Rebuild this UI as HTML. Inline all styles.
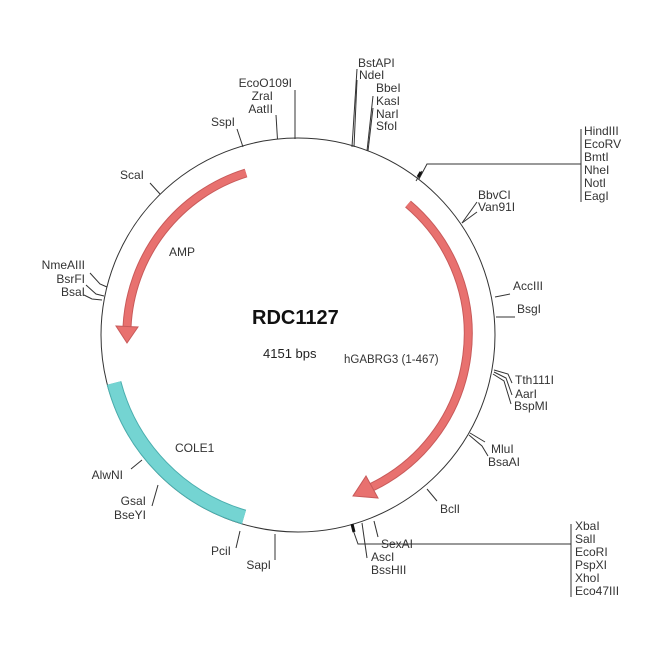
<!DOCTYPE html>
<html><head><meta charset="utf-8"><style>
html,body{margin:0;padding:0;background:#fff;}
svg{display:block;}
text{font-family:"Liberation Sans",Arial,sans-serif;font-size:12px;fill:#333;}
</style></head><body>
<svg width="650" height="650" viewBox="0 0 650 650" xmlns="http://www.w3.org/2000/svg">
<rect width="650" height="650" fill="#fff"/>
<circle cx="298" cy="335" r="197" fill="none" stroke="#333" stroke-width="1"/>

<!-- AMP arrow -->
<path d="M246,173 A170,170 0 0 0 127,327" fill="none" stroke="#c85a5a" stroke-width="9"/>
<path d="M246,173 A170,170 0 0 0 127,327" fill="none" stroke="#e8716f" stroke-width="7"/>
<polygon points="116,326 138,327 127,343" fill="#e8716f" stroke="#c85a5a" stroke-width="1"/>

<!-- hGABRG3 arrow -->
<path d="M408,204 A170,170 0 0 1 372,487" fill="none" stroke="#c85a5a" stroke-width="9"/>
<path d="M408,204 A170,170 0 0 1 372,487" fill="none" stroke="#e8716f" stroke-width="7"/>
<polygon points="378,498 366,476 353,496" fill="#e8716f" stroke="#c85a5a" stroke-width="1"/>

<!-- COLE1 -->
<path d="M114,383 A190,190 0 0 0 244,517" fill="none" stroke="#4aaeae" stroke-width="15"/>
<path d="M114,383 A190,190 0 0 0 244,517" fill="none" stroke="#74d4d2" stroke-width="13"/>

<g stroke="#333" stroke-width="1" fill="none">
<line x1="243" y1="147" x2="237" y2="129"/>
<line x1="277.5" y1="139.5" x2="276" y2="115"/>
<line x1="295" y1="139" x2="295" y2="90"/>
<line x1="352" y1="147" x2="357" y2="69"/>
<line x1="354" y1="147" x2="357" y2="80"/>
<line x1="367" y1="151" x2="373" y2="96"/>
<line x1="368" y1="151" x2="373" y2="108"/>
<path d="M419,179 L427,164 L581,164"/>
<line x1="581" y1="129" x2="581" y2="202"/>
<line x1="416" y1="181" x2="422" y2="171"/>
<line x1="462" y1="223" x2="477" y2="202"/>
<line x1="462" y1="223" x2="477" y2="212"/>
<line x1="495" y1="297" x2="510" y2="294"/>
<line x1="496" y1="317" x2="515" y2="317"/>
<path d="M494,370 L508,374 L512,383"/>
<path d="M494,372 L506,378 L512,395"/>
<path d="M493,374 L504,381 L511,404"/>
<line x1="470" y1="433" x2="485" y2="442"/>
<path d="M469,435 L482,446 L488,456"/>
<line x1="427" y1="489" x2="437" y2="501"/>
<line x1="374" y1="521" x2="378" y2="537"/>
<line x1="362" y1="523" x2="367" y2="558"/>
<path d="M352,527 L358,544 L571,544"/>
<line x1="571" y1="524" x2="571" y2="597"/>
<line x1="240" y1="531" x2="236" y2="548"/>
<line x1="275" y1="534" x2="275" y2="560"/>
<line x1="158" y1="485" x2="152" y2="506"/>
<line x1="142" y1="460" x2="131" y2="469"/>
<line x1="160" y1="194" x2="150" y2="183"/>
<path d="M107,287 L100,284 L90,273"/>
<path d="M104,296 L96,294 L86,285"/>
<path d="M102,300 L92,299 L84,295"/>
</g>
<g stroke="#111" stroke-width="3">
<line x1="418" y1="177" x2="421" y2="172"/>
<line x1="352" y1="524" x2="354" y2="532"/>
</g>

<text x="292" y="87" text-anchor="end">EcoO109I</text>
<text x="273" y="100" text-anchor="end">ZraI</text>
<text x="273" y="113" text-anchor="end">AatII</text>
<text x="235" y="126" text-anchor="end">SspI</text>
<text x="144" y="179" text-anchor="end">ScaI</text>
<text x="358" y="67">BstAPI</text>
<text x="359" y="79">NdeI</text>
<text x="376" y="92">BbeI</text>
<text x="376" y="105">KasI</text>
<text x="376" y="118">NarI</text>
<text x="376" y="130">SfoI</text>
<text x="584" y="135">HindIII</text>
<text x="584" y="148">EcoRV</text>
<text x="584" y="161">BmtI</text>
<text x="584" y="174">NheI</text>
<text x="584" y="187">NotI</text>
<text x="584" y="200">EagI</text>
<text x="478" y="199">BbvCI</text>
<text x="478" y="211">Van91I</text>
<text x="513" y="290">AccIII</text>
<text x="517" y="313">BsgI</text>
<text x="515" y="384">Tth111I</text>
<text x="515" y="398">AarI</text>
<text x="514" y="410">BspMI</text>
<text x="491" y="453">MluI</text>
<text x="488" y="466">BsaAI</text>
<text x="440" y="513">BclI</text>
<text x="381" y="548">SexAI</text>
<text x="371" y="561">AscI</text>
<text x="371" y="574">BssHII</text>
<text x="575" y="530">XbaI</text>
<text x="575" y="543">SalI</text>
<text x="575" y="556">EcoRI</text>
<text x="575" y="569">PspXI</text>
<text x="575" y="582">XhoI</text>
<text x="575" y="595">Eco47III</text>
<text x="231" y="555" text-anchor="end">PciI</text>
<text x="271" y="569" text-anchor="end">SapI</text>
<text x="146" y="505" text-anchor="end">GsaI</text>
<text x="146" y="519" text-anchor="end">BseYI</text>
<text x="123" y="479" text-anchor="end">AlwNI</text>
<text x="85" y="269" text-anchor="end">NmeAIII</text>
<text x="85" y="283" text-anchor="end">BsrFI</text>
<text x="85" y="296" text-anchor="end">BsaI</text>
<text x="169" y="256">AMP</text>
<text x="175" y="452">COLE1</text>
<text x="252" y="324" style="font-size:20px;font-weight:bold;fill:#111">RDC1127</text>
<text x="263" y="358" style="font-size:13px;fill:#222">4151 bps</text>
<text x="344" y="363" style="font-size:11.5px">hGABRG3 (1-467)</text>
</svg>
</body></html>
